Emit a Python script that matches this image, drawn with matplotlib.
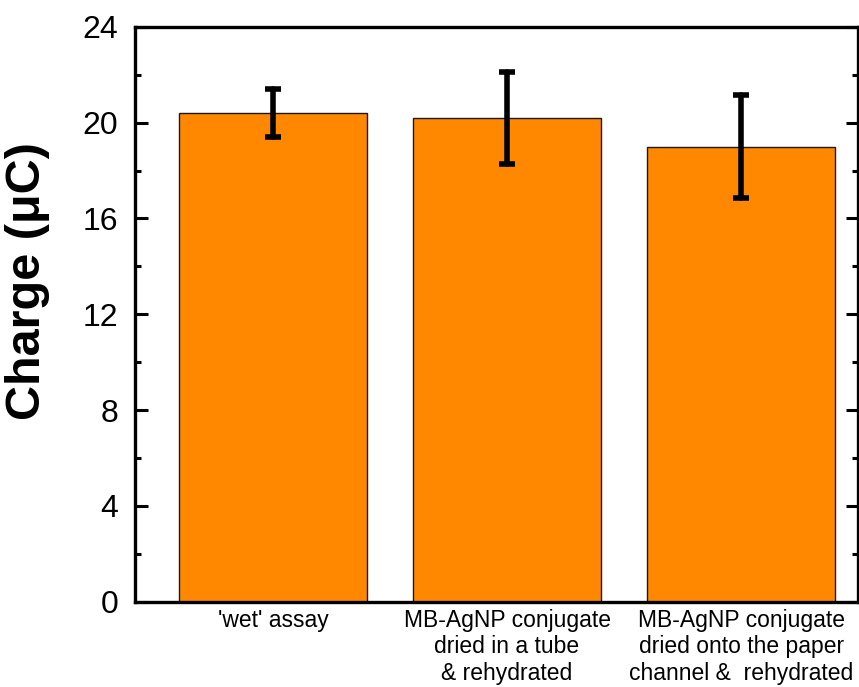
import matplotlib
matplotlib.use("Agg")
import matplotlib.pyplot as plt
import numpy as np
from matplotlib.ticker import MultipleLocator

plt.rcParams["font.family"] = ["Liberation Sans", "DejaVu Sans"]

CATEGORIES = [
    "'wet' assay",
    "MB-AgNP conjugate\ndried in a tube\n& rehydrated",
    "MB-AgNP conjugate\ndried onto the paper\nchannel &  rehydrated",
]
CHARGE = [20.4, 20.2, 19.0]
ERR = [1.0, 1.92, 2.15]

fig = plt.figure(figsize=(8.59, 6.87), dpi=100)
ax = fig.add_axes([0.157, 0.124, 0.842, 0.837])

x = np.arange(len(CATEGORIES))
ax.bar(x, CHARGE, 0.8, color="#FF8800", edgecolor="#1a1a1a", linewidth=1.0, zorder=2)
eb = ax.errorbar(x, CHARGE, yerr=ERR, fmt="none", ecolor="black", elinewidth=4.0,
                 capsize=6, capthick=4.0, zorder=3)
for coll in eb[2]:
    coll.set_capstyle("round")
for cap in eb[1]:
    cap.set_solid_capstyle("round")

ax.set_xlim(-0.59, 2.5)
ax.set_ylim(0, 24)
ax.yaxis.set_major_locator(MultipleLocator(4))
ax.yaxis.set_minor_locator(MultipleLocator(2))
ax.set_xticks(x)
ax.set_xticklabels(CATEGORIES, fontsize=16.5, linespacing=1.2)
ax.tick_params(axis="x", length=0, pad=5)
ax.tick_params(axis="y", which="major", direction="in", length=9, width=2.2,
               labelsize=23, pad=12, right=True)
ax.tick_params(axis="y", which="minor", direction="in", length=4.5, width=2.2, right=True)

for spine in ax.spines.values():
    spine.set_linewidth(2.4)

ax.set_ylabel("Charge (\u03bcC)", fontsize=35, fontweight="bold")
ax.yaxis.set_label_coords(-0.118, 0.557)

fig.savefig("out.png", dpi=100)
